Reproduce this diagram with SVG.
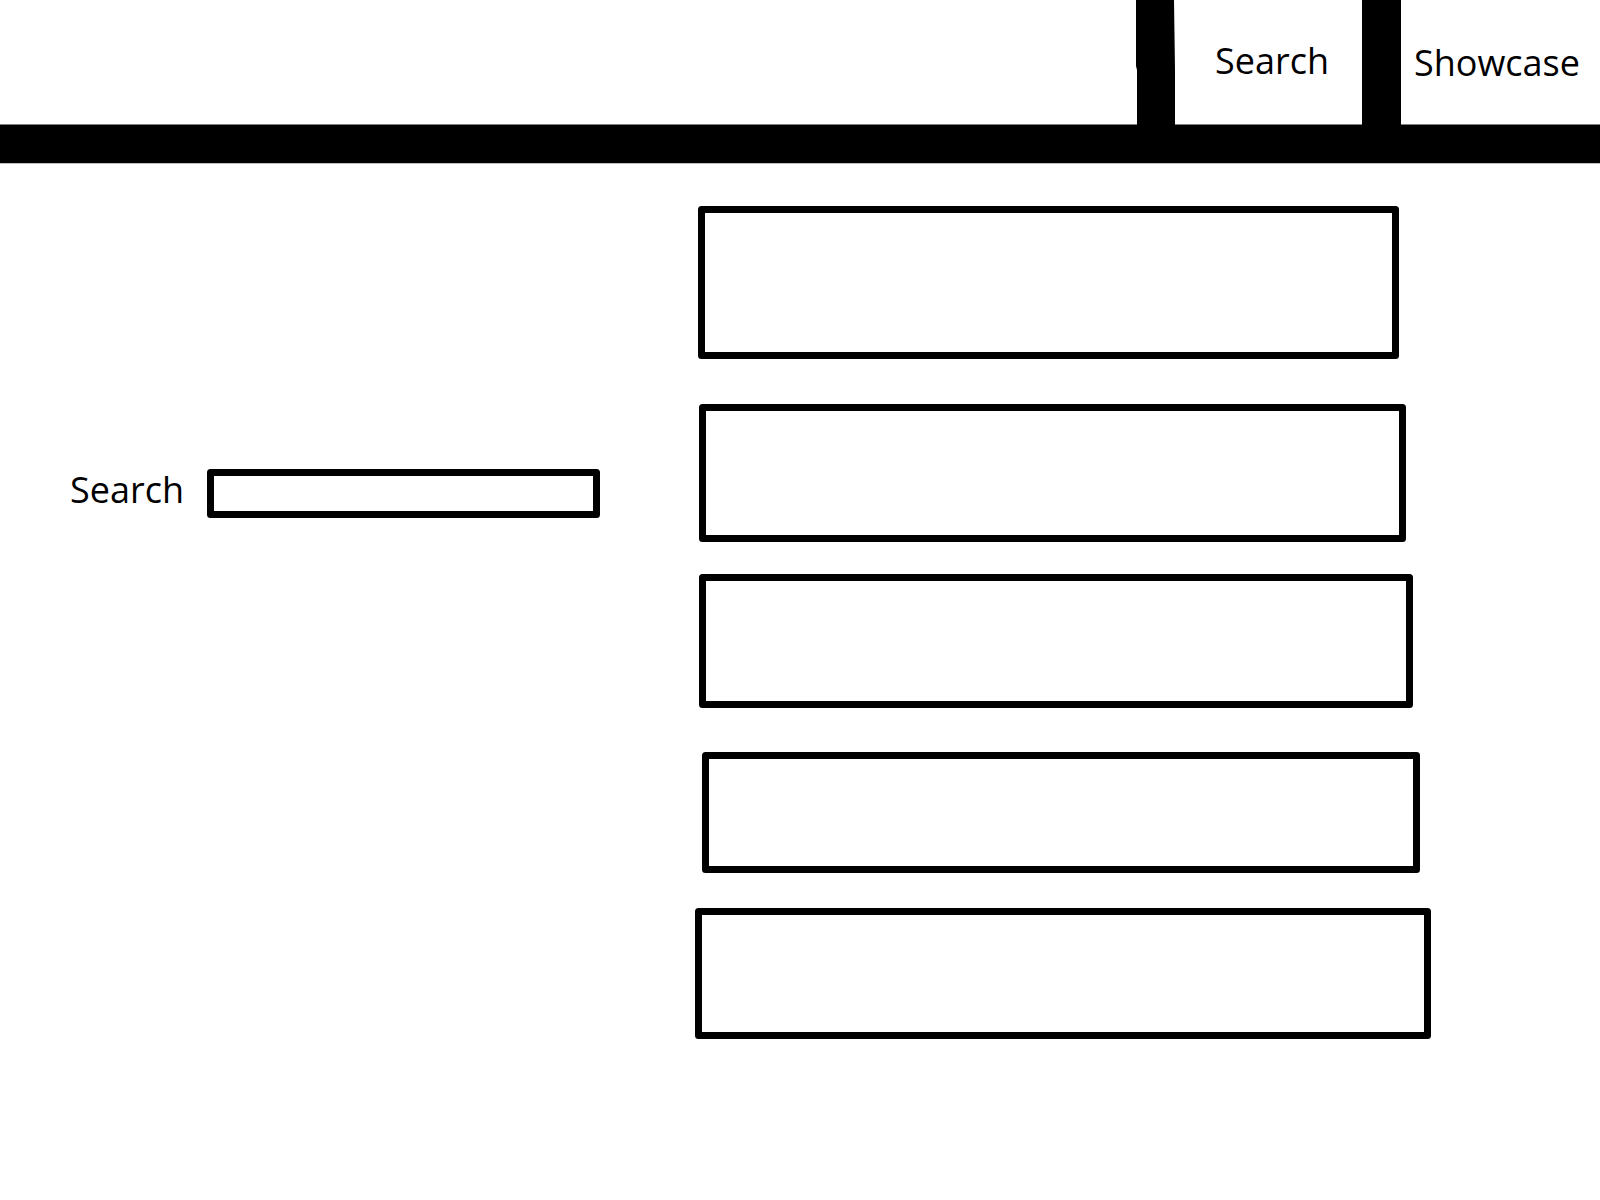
<svg xmlns="http://www.w3.org/2000/svg" width="1600" height="1200" viewBox="0 0 1600 1200">
<style>
.box{fill:none;stroke:#000;stroke-width:7;stroke-linejoin:round}
.lbl{font-family:"Open Sans","Noto Sans",sans-serif;font-size:36px;fill:#000}
</style>
<rect width="1600" height="1200" fill="#fff"/>
<g id="header">
<path d="M0 124.5 H1600 V163.3 H0 Z" fill="#000"/>
<path d="M1136 0 H1174 L1175 70 V125 H1137 V70 L1136 66 Z" fill="#000"/>
<rect x="1362" y="0" width="39" height="125" fill="#000"/>
<text class="lbl" x="1215" y="74">Search</text>
<text class="lbl" x="1414" y="76">Showcase</text>
</g>
<g id="search">
<text class="lbl" x="70" y="503">Search</text>
<path class="box" d="M210.5 472.5 H596.5 V514.5 H210.5 Z"/>
</g>
<g id="box1"><path class="box" d="M701.5 209.5 H1395.5 V355.5 H701.5 Z"/></g>
<g id="box2"><path class="box" d="M702.5 407.5 H1402.5 V538.5 H702.5 Z"/></g>
<g id="box3"><path class="box" d="M702.5 577.5 H1409.5 V704.5 H702.5 Z"/></g>
<g id="box4"><path class="box" d="M705.5 755.5 H1416.5 V869.5 H705.5 Z"/></g>
<g id="box5"><path class="box" d="M698.5 911.5 H1427.5 V1035.5 H698.5 Z"/></g>
<g id="connectors"/>
</svg>
